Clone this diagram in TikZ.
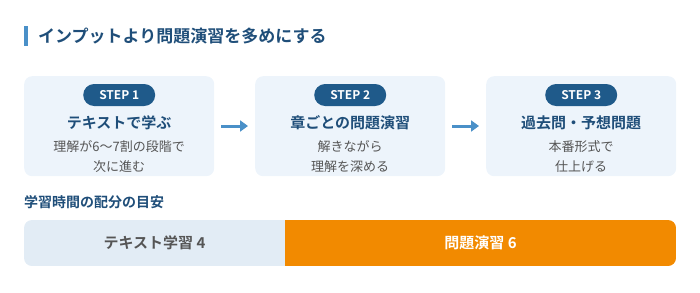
\documentclass[tikz,border=0pt]{standalone}
\usepackage{fontspec}
\setmainfont{Noto Sans CJK JP}[BoldFont={Noto Sans CJK JP Bold}]
\usetikzlibrary{arrows.meta}
\definecolor{navy}{HTML}{1F4E79}
\definecolor{pill}{HTML}{1F5A8A}
\definecolor{boxbg}{HTML}{EDF4FB}
\definecolor{arrowc}{HTML}{4A90C8}
\definecolor{barbg}{HTML}{E2ECF5}
\definecolor{orangec}{HTML}{F28A00}
\definecolor{txtgray}{HTML}{555555}
\tikzset{
  stepbox/.style={draw=none,fill=boxbg,rounded corners=8pt,minimum width=190pt,minimum height=100pt,anchor=north west,inner sep=0pt},
  pillbox/.style={fill=pill,text=white,rounded corners=11pt,minimum width=72pt,minimum height=22pt,inner sep=0pt,font=\bfseries\fontsize{12}{14}\selectfont},
  steptitle/.style={text=navy,font=\bfseries\fontsize{15}{18}\selectfont,inner sep=0pt},
  stepdesc/.style={text=txtgray,font=\fontsize{13}{20}\selectfont,align=center,inner sep=0pt},
  flowarrow/.style={draw=arrowc,line width=3pt,-{Triangle[length=8pt,width=11pt]}},
  barlabel/.style={font=\bfseries\fontsize{15}{18}\selectfont,inner sep=0pt},
}
\begin{document}
\begin{tikzpicture}[x=1pt,y=-1pt]
\useasboundingbox (0,0) rectangle (700,292);
% title
\fill[arrowc] (24,26) rectangle (27.5,46);
\node[anchor=west,text=navy,font=\bfseries\fontsize{17}{20}\selectfont,inner sep=0pt] (title) at (38,36) {インプットより問題演習を多めにする};
% steps
\node[stepbox] (s1) at (24,76) {};
\node[stepbox] (s2) at (255,76) {};
\node[stepbox] (s3) at (486,76) {};
\foreach \b/\n/\t in {s1/1/テキストで学ぶ, s2/2/章ごとの問題演習, s3/3/過去問・予想問題}{
  \node[pillbox] (p\n) at ([yshift=-19pt]\b.north) {STEP \n};
  \node[steptitle] (t\n) at ([yshift=-47pt]\b.north) {\t};
}
\node[stepdesc] (d1) at ([yshift=-81pt]s1.north) {理解が6〜7割の段階で\\次に進む};
\node[stepdesc] (d2) at ([yshift=-81pt]s2.north) {解きながら\\理解を深める};
\node[stepdesc] (d3) at ([yshift=-81pt]s3.north) {本番形式で\\仕上げる};
\coordinate (a1s) at (221,126); \coordinate (a1e) at (248,126);
\coordinate (a2s) at (452,126); \coordinate (a2e) at (479,126);
\draw[flowarrow] (a1s) -- (a1e);
\draw[flowarrow] (a2s) -- (a2e);
% allocation
\node[anchor=west,text=navy,font=\bfseries\fontsize{14}{17}\selectfont,inner sep=0pt] (sub) at (24,202) {学習時間の配分の目安};
\begin{scope}
\clip[rounded corners=8pt] (24,220) rectangle (676,266);
\fill[barbg] (24,220) rectangle (285,266);
\fill[orangec] (285,220) rectangle (676,266);
\end{scope}
\node[barlabel,text=txtgray] (l1) at (154.5,243) {テキスト学習 4};
\node[barlabel,text=white] (l2) at (480.5,243) {問題演習 6};
\end{tikzpicture}
\end{document}
